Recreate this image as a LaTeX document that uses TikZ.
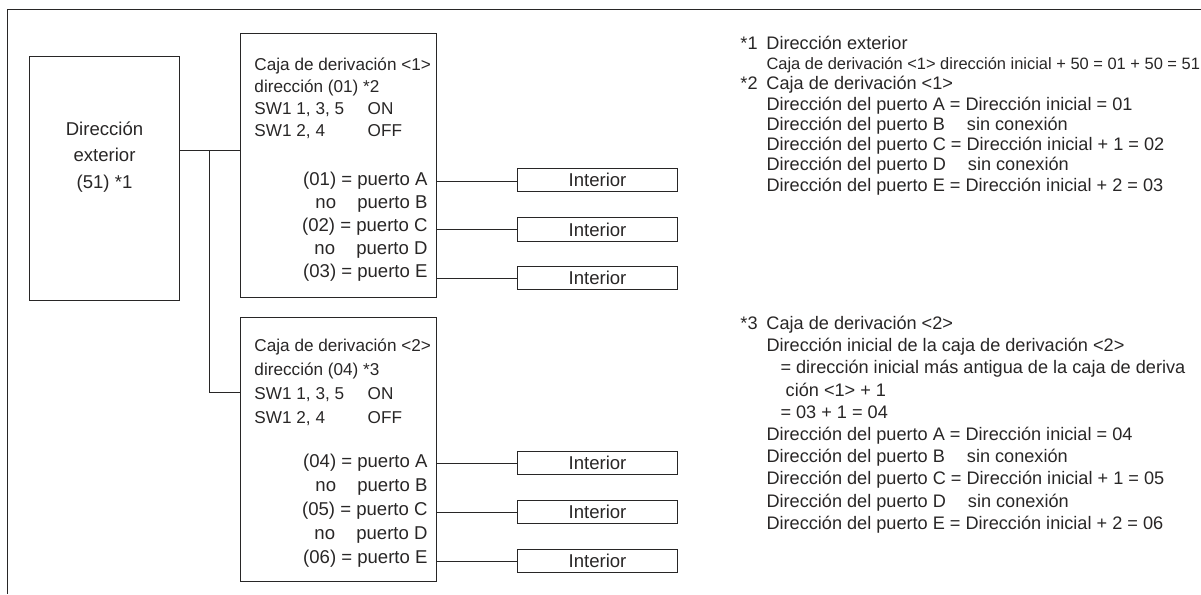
\documentclass[tikz,border=0pt]{standalone}
\usepackage{fontspec}
\setmainfont{Liberation Sans}
\usepackage{xcolor}
\usetikzlibrary{positioning,calc}
\definecolor{inkgray}{RGB}{40,38,38}

\begin{document}
\begin{tikzpicture}[x=0.025cm, y=-0.025cm, line width=0.7pt, draw=inkgray, text=inkgray,
    font=\fontsize{13.2}{15.8}\selectfont,
    unitbox/.style={draw, inner sep=0pt},
    interior/.style={draw, minimum width=3.975cm, minimum height=0.58cm, inner sep=0pt},
    portlbl/.style={anchor=east, inner sep=0pt},
    txtblock/.style={anchor=north west, align=left, inner sep=0pt}]
    \useasboundingbox (0,0) rectangle (1201,594);

    % frame
    \draw (1201,9) -- (7,9) -- (7,594);

    % outdoor unit
    \node[unitbox, minimum width=3.725cm, minimum height=6.075cm] (outdoor) at (104.5,178.5) {};
    \node[align=center, inner sep=0pt, font=\fontsize{13.2}{18.8}\selectfont] (outtxt) at (104.5,157) {Dirección\\exterior\\(51) *1};

    % branch boxes
    \node[unitbox, minimum width=4.875cm, minimum height=6.575cm] (bc1) at (338.5,165.5) {};
    \node[unitbox, minimum width=4.875cm, minimum height=6.575cm] (bc2) at (338.5,449.5) {};

    \node[txtblock, font=\fontsize{12.2}{15.6}\selectfont] (hd1) at (254,57.5) {Caja de derivación <1>\\dirección (01) *2\\\makebox[2.83cm][l]{SW1 1, 3, 5}ON\\\makebox[2.83cm][l]{SW1 2, 4}OFF};
    \node[txtblock, font=\fontsize{12.2}{17}\selectfont] (hd2) at (254,338.5) {Caja de derivación <2>\\dirección (04) *3\\\makebox[2.83cm][l]{SW1 1, 3, 5}ON\\\makebox[2.83cm][l]{SW1 2, 4}OFF};

    % ports of box 1
    \node[portlbl] (p1a) at (428,181) {(01) = puerto A};
    \node[portlbl] (p1b) at (428,204) {no\hspace{0.53cm}puerto B};
    \node[portlbl] (p1c) at (428,227) {(02) = puerto C};
    \node[portlbl] (p1d) at (428,250) {no\hspace{0.53cm}puerto D};
    \node[portlbl] (p1e) at (428,273) {(03) = puerto E};

    % ports of box 2
    \node[portlbl] (p2a) at (428,463) {(04) = puerto A};
    \node[portlbl] (p2b) at (428,487) {no\hspace{0.53cm}puerto B};
    \node[portlbl] (p2c) at (428,511) {(05) = puerto C};
    \node[portlbl] (p2d) at (428,535) {no\hspace{0.53cm}puerto D};
    \node[portlbl] (p2e) at (428,559) {(06) = puerto E};

    % indoor units
    \node[interior] (i1a) at (597.5,180) {Interior};
    \node[interior] (i1c) at (597.5,229.5) {Interior};
    \node[interior] (i1e) at (597.5,278) {Interior};
    \node[interior] (i2a) at (597.5,463) {Interior};
    \node[interior] (i2c) at (597.5,512) {Interior};
    \node[interior] (i2e) at (597.5,561) {Interior};

    % wiring
    \coordinate (tee) at (209,150);
    \coordinate (drop) at (209,392);
    \draw (outdoor.east |- tee) -- (bc1.west |- tee);
    \draw (tee) -- (drop) -- (bc2.west |- drop);
    \draw (bc1.east |- p1a) -- (i1a.west |- p1a);
    \draw (bc1.east |- i1c) -- (i1c.west);
    \draw (bc1.east |- i1e) -- (i1e.west);
    \draw (bc2.east |- i2a) -- (i2a.west);
    \draw (bc2.east |- i2c) -- (i2c.west);
    \draw (bc2.east |- i2e) -- (i2e.west);

    % notes
    \node[txtblock, font=\fontsize{12.9}{14.4}\selectfont] (notes12) at (766,35.5) {%
        \llap{\makebox[0.65cm][l]{*1}}Dirección exterior\\
        {\fontsize{11.7}{14.4}\selectfont Caja de derivación <1> dirección inicial + 50 = 01 + 50 = 51}\\
        \llap{\makebox[0.65cm][l]{*2}}Caja de derivación <1>\\
        Dirección del puerto A = Dirección inicial = 01\\
        Dirección del puerto B\hspace{0.55cm}sin conexión\\
        Dirección del puerto C = Dirección inicial + 1 = 02\\
        Dirección del puerto D\hspace{0.55cm}sin conexión\\
        Dirección del puerto E = Dirección inicial + 2 = 03};
    \node[txtblock, font=\fontsize{12.9}{15.8}\selectfont] (notes3) at (766,315.5) {%
        \llap{\makebox[0.65cm][l]{*3}}Caja de derivación <2>\\
        Dirección inicial de la caja de derivación <2>\\
        \hspace*{0.35cm}= dirección inicial más antigua de la caja de deriva\\
        \hspace*{0.48cm}ción <1> + 1\\
        \hspace*{0.35cm}= 03 + 1 = 04\\
        Dirección del puerto A = Dirección inicial = 04\\
        Dirección del puerto B\hspace{0.55cm}sin conexión\\
        Dirección del puerto C = Dirección inicial + 1 = 05\\
        Dirección del puerto D\hspace{0.55cm}sin conexión\\
        Dirección del puerto E = Dirección inicial + 2 = 06};
\end{tikzpicture}
\end{document}
